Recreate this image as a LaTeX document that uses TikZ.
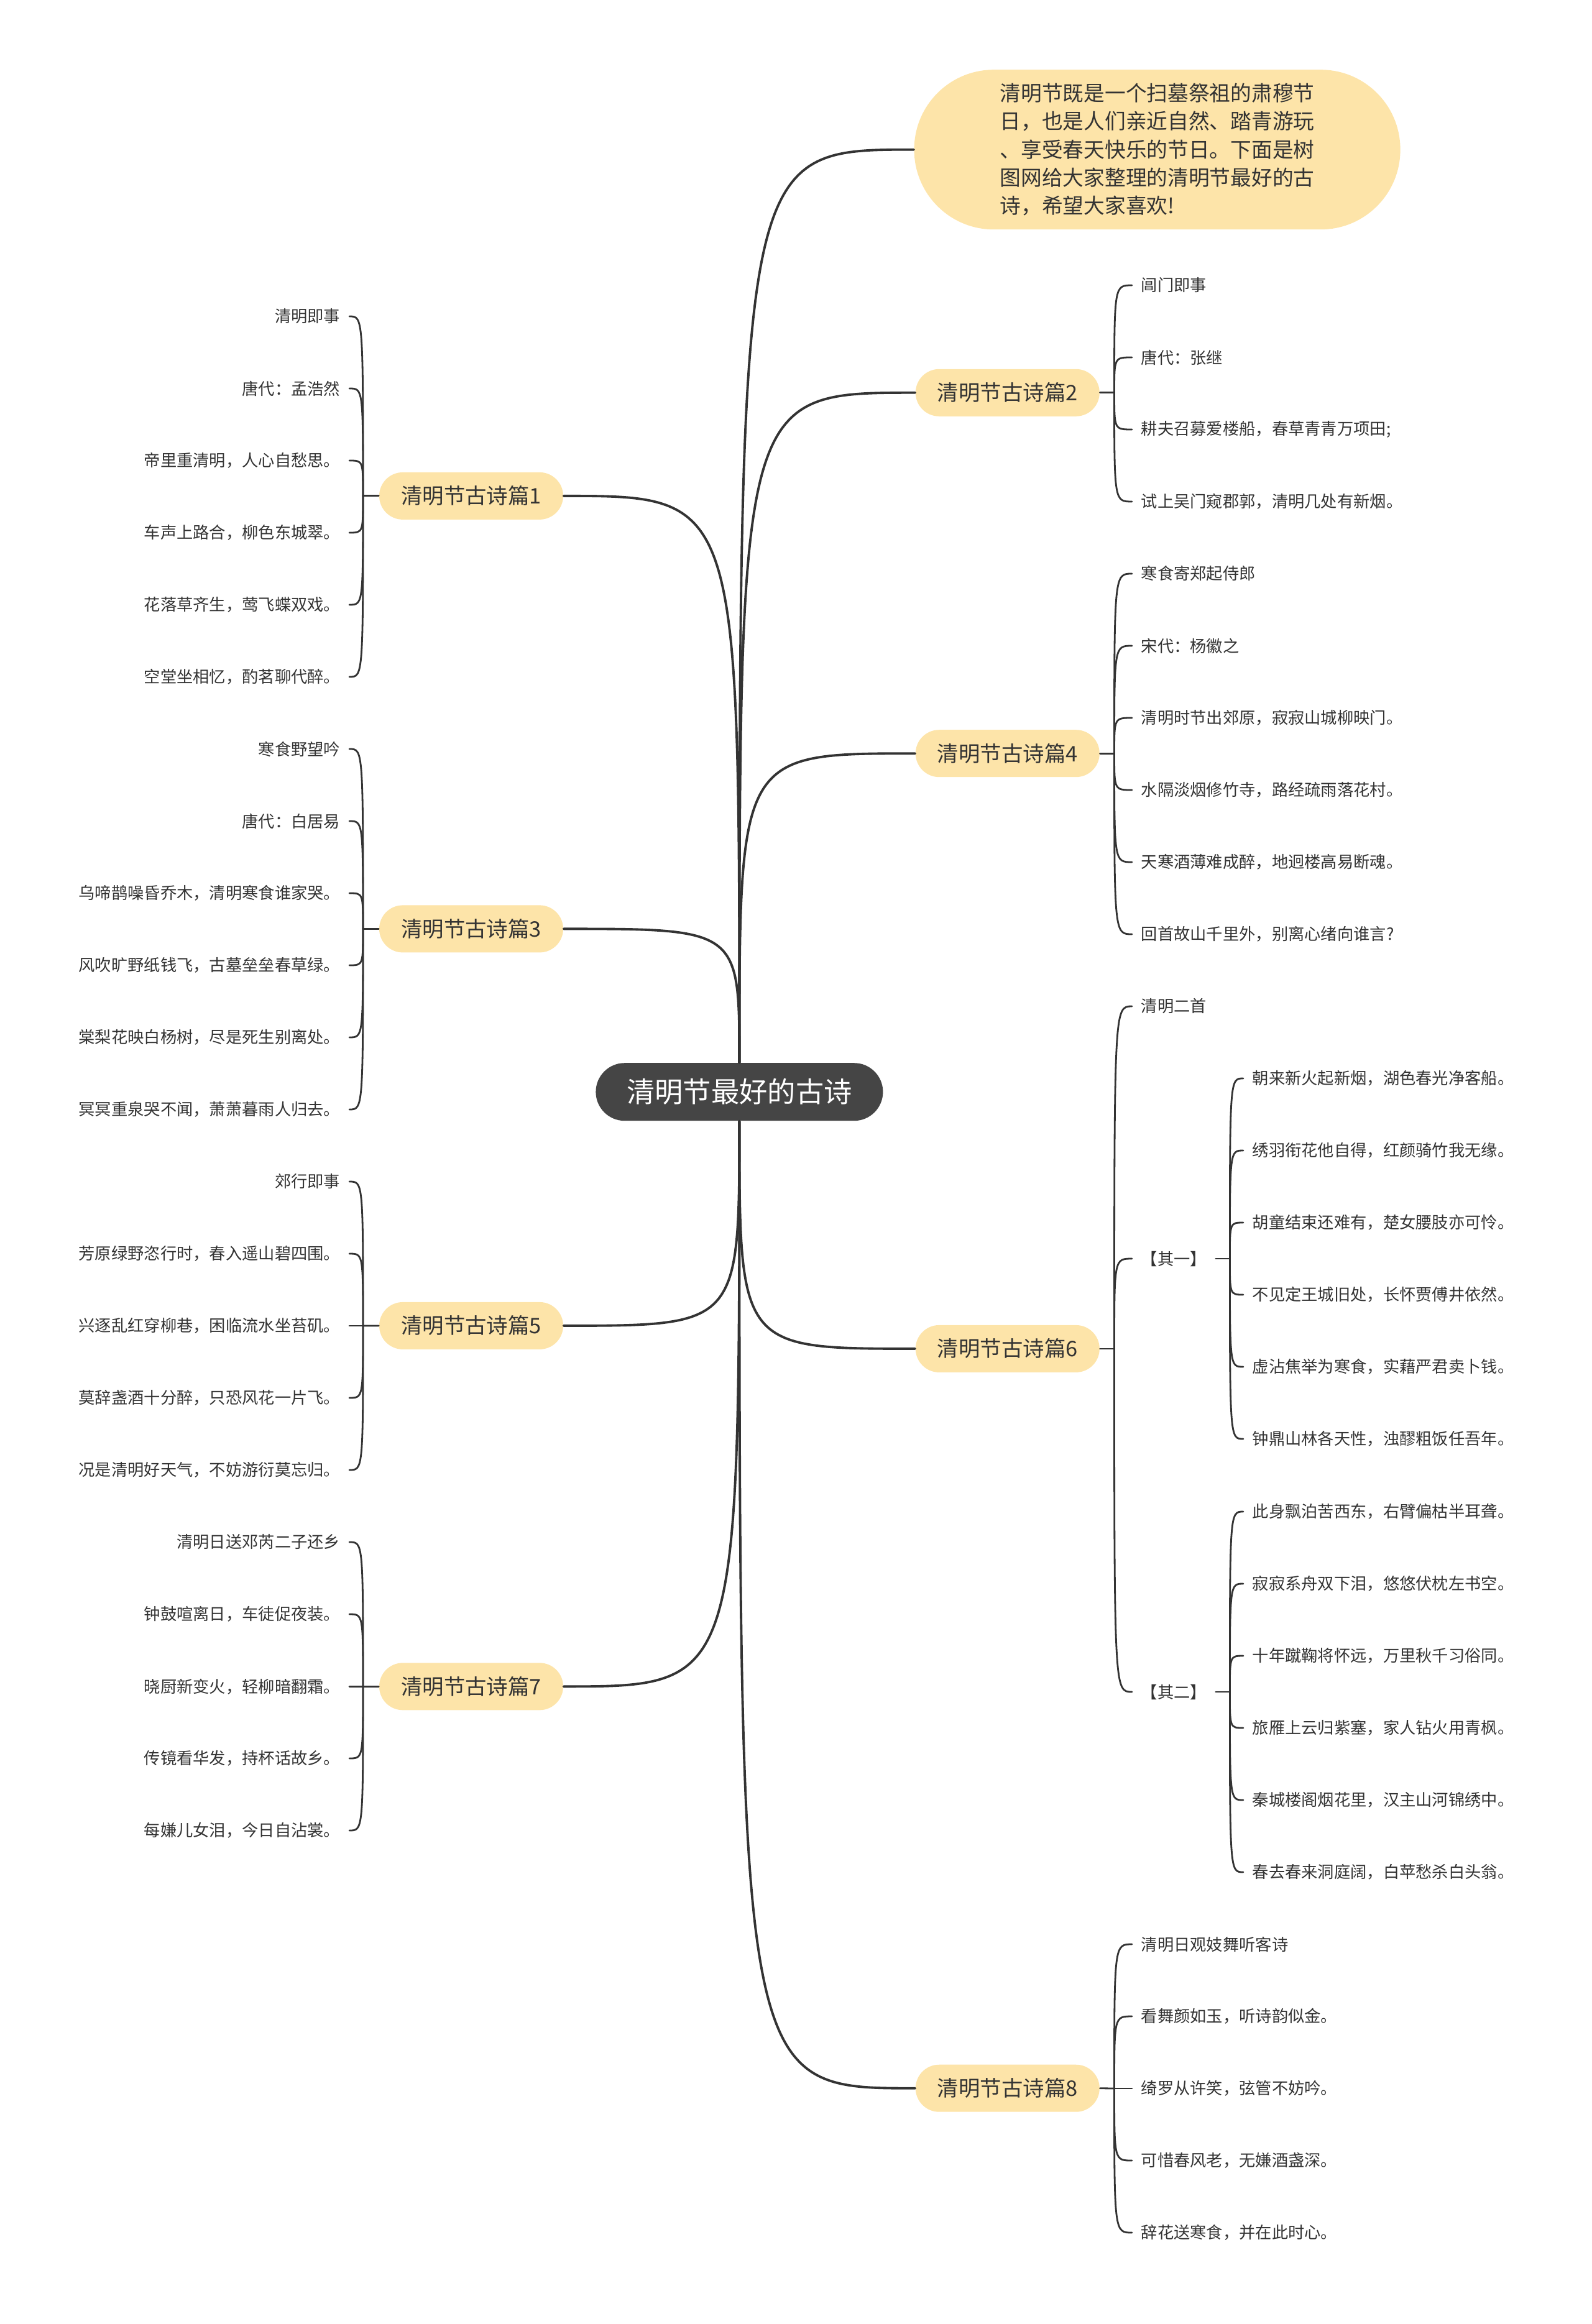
\documentclass[tikz,border=0pt]{standalone}
\usepackage{fontspec}
\setmainfont{Noto Sans CJK SC}
\definecolor{rootgray}{HTML}{454545}
\definecolor{topicyellow}{HTML}{FDE4A9}
\definecolor{linegray}{HTML}{333333}
\tikzstyle{rootnode}=[rectangle,rounded corners=0.465cm,fill=rootgray,text=white,minimum width=4.62cm,minimum height=0.93cm,font=\fontsize{12.9pt}{15pt}\selectfont]
\tikzstyle{topicnode}=[rectangle,rounded corners=0.38cm,fill=topicyellow,text=linegray,minimum width=2.96cm,minimum height=0.76cm,font=\fontsize{9.8pt}{12pt}\selectfont]
\tikzstyle{introbox}=[topicnode,rounded corners=1.28cm,minimum width=7.82cm,minimum height=2.57cm,align=left,font=\fontsize{9.6pt}{12.85pt}\selectfont]
\tikzstyle{leaf}=[inner xsep=4pt,inner ysep=1pt,text=linegray,font=\fontsize{7.48pt}{9pt}\selectfont]
\tikzstyle{lleaf}=[leaf,anchor=east]
\tikzstyle{rleaf}=[leaf,anchor=west]
\tikzstyle{twig}=[draw=linegray,line width=0.8pt,line cap=round,to path={.. controls (\tikztostart |- \tikztotarget) .. (\tikztotarget)}]
\tikzstyle{mainlink}=[twig,line width=1.1pt]

\begin{document}
\begin{tikzpicture}
\useasboundingbox (0,0) rectangle (25.6,-37.39);
\node[rootnode] (qm) at (11.894,-17.567) {清明节最好的古诗};
\node[introbox] (intro) at (18.616,-2.407) {清明节既是一个扫墓祭祖的肃穆节\\日，也是人们亲近自然、踏青游玩\\、享受春天快乐的节日。下面是树\\图网给大家整理的清明节最好的古\\诗，希望大家喜欢!};
\node[topicnode] (p1) at (7.58,-7.979) {清明节古诗篇1};
\node[topicnode] (p3) at (7.58,-14.944) {清明节古诗篇3};
\node[topicnode] (p5) at (7.58,-21.329) {清明节古诗篇5};
\node[topicnode] (p7) at (7.58,-27.133) {清明节古诗篇7};
\node[topicnode] (p2) at (16.208,-6.318) {清明节古诗篇2};
\node[topicnode] (p4) at (16.208,-12.122) {清明节古诗篇4};
\node[topicnode] (p6) at (16.208,-21.699) {清明节古诗篇6};
\node[topicnode] (p8) at (16.208,-33.597) {清明节古诗篇8};
\draw[mainlink](qm.north) to (intro.west);\draw[mainlink](qm.north) to (p2.west);\draw[mainlink](qm.north) to (p4.west);
\draw[mainlink](qm.north) to (p1.east);\draw[mainlink](qm.north) to (p3.east);
\draw[mainlink](qm.south) to (p5.east);\draw[mainlink](qm.south) to (p7.east);
\draw[mainlink](qm.south) to (p6.west);\draw[mainlink](qm.south) to (p8.west);
% left side
\coordinate (j1) at (5.84,-7.979);
\node[lleaf] (p1a) at (5.62,-5.09) {清明即事};
\node[lleaf] (p1b) at (5.62,-6.25) {唐代：孟浩然};
\node[lleaf] (p1c) at (5.62,-7.41) {帝里重清明，人心自愁思。};
\node[lleaf] (p1d) at (5.62,-8.57) {车声上路合，柳色东城翠。};
\node[lleaf] (p1e) at (5.62,-9.73) {花落草齐生，莺飞蝶双戏。};
\node[lleaf] (p1f) at (5.62,-10.89) {空堂坐相忆，酌茗聊代醉。};
\draw[twig](p1.west)--(j1);
\draw[twig](j1) to (p1a.east);\draw[twig](j1) to (p1b.east);\draw[twig](j1) to (p1c.east);
\draw[twig](j1) to (p1d.east);\draw[twig](j1) to (p1e.east);\draw[twig](j1) to (p1f.east);
\coordinate (j3) at (5.84,-14.944);
\node[lleaf] (p3a) at (5.62,-12.05) {寒食野望吟};
\node[lleaf] (p3b) at (5.62,-13.21) {唐代：白居易};
\node[lleaf] (p3c) at (5.62,-14.37) {乌啼鹊噪昏乔木，清明寒食谁家哭。};
\node[lleaf] (p3d) at (5.62,-15.53) {风吹旷野纸钱飞，古墓垒垒春草绿。};
\node[lleaf] (p3e) at (5.62,-16.69) {棠梨花映白杨树，尽是死生别离处。};
\node[lleaf] (p3f) at (5.62,-17.85) {冥冥重泉哭不闻，萧萧暮雨人归去。};
\draw[twig](p3.west)--(j3);
\draw[twig](j3) to (p3a.east);\draw[twig](j3) to (p3b.east);\draw[twig](j3) to (p3c.east);
\draw[twig](j3) to (p3d.east);\draw[twig](j3) to (p3e.east);\draw[twig](j3) to (p3f.east);
\coordinate (j5) at (5.84,-21.33);
\node[lleaf] (p5a) at (5.62,-19.01) {郊行即事};
\node[lleaf] (p5b) at (5.62,-20.17) {芳原绿野恣行时，春入遥山碧四围。};
\node[lleaf] (p5c) at (5.62,-21.33) {兴逐乱红穿柳巷，困临流水坐苔矶。};
\node[lleaf] (p5d) at (5.62,-22.49) {莫辞盏酒十分醉，只恐风花一片飞。};
\node[lleaf] (p5e) at (5.62,-23.65) {况是清明好天气，不妨游衍莫忘归。};
\draw[twig](p5.west)--(j5);
\draw[twig](j5) to (p5a.east);\draw[twig](j5) to (p5b.east);\draw[twig](j5)--(p5c.east);
\draw[twig](j5) to (p5d.east);\draw[twig](j5) to (p5e.east);
\coordinate (j7) at (5.84,-27.133);
\node[lleaf] (p7a) at (5.62,-24.81) {清明日送邓芮二子还乡};
\node[lleaf] (p7b) at (5.62,-25.97) {钟鼓喧离日，车徒促夜装。};
\node[lleaf] (p7c) at (5.62,-27.133) {晓厨新变火，轻柳暗翻霜。};
\node[lleaf] (p7d) at (5.62,-28.29) {传镜看华发，持杯话故乡。};
\node[lleaf] (p7e) at (5.62,-29.45) {每嫌儿女泪，今日自沾裳。};
\draw[twig](p7.west)--(j7);
\draw[twig](j7) to (p7a.east);\draw[twig](j7) to (p7b.east);\draw[twig](j7)--(p7c.east);
\draw[twig](j7) to (p7d.east);\draw[twig](j7) to (p7e.east);
% right side
\coordinate (j2) at (17.925,-6.318);
\node[rleaf] (p2a) at (18.21,-4.59) {阊门即事};
\node[rleaf] (p2b) at (18.21,-5.75) {唐代：张继};
\node[rleaf] (p2c) at (18.21,-6.91) {耕夫召募爱楼船，春草青青万项田;};
\node[rleaf] (p2d) at (18.21,-8.07) {试上吴门窥郡郭，清明几处有新烟。};
\draw[twig](p2.east)--(j2);
\draw[twig](j2) to (p2a.west);\draw[twig](j2) to (p2b.west);\draw[twig](j2) to (p2c.west);\draw[twig](j2) to (p2d.west);
\coordinate (j4) at (17.925,-12.122);
\node[rleaf] (p4a) at (18.21,-9.23) {寒食寄郑起侍郎};
\node[rleaf] (p4b) at (18.21,-10.39) {宋代：杨徽之};
\node[rleaf] (p4c) at (18.21,-11.55) {清明时节出郊原，寂寂山城柳映门。};
\node[rleaf] (p4d) at (18.21,-12.71) {水隔淡烟修竹寺，路经疏雨落花村。};
\node[rleaf] (p4e) at (18.21,-13.87) {天寒酒薄难成醉，地迥楼高易断魂。};
\node[rleaf] (p4f) at (18.21,-15.03) {回首故山千里外，别离心绪向谁言?};
\draw[twig](p4.east)--(j4);
\draw[twig](j4) to (p4a.west);\draw[twig](j4) to (p4b.west);\draw[twig](j4) to (p4c.west);
\draw[twig](j4) to (p4d.west);\draw[twig](j4) to (p4e.west);\draw[twig](j4) to (p4f.west);
\coordinate (j6) at (17.925,-21.699);
\node[rleaf] (p6a) at (18.21,-16.19) {清明二首};
\node[rleaf] (qy) at (18.21,-20.25) {【其一】};
\node[rleaf] (qe) at (18.21,-27.22) {【其二】};
\draw[twig](p6.east)--(j6);
\draw[twig](j6) to (p6a.west);\draw[twig](j6) to (qy.west);\draw[twig](j6) to (qe.west);
\coordinate (jy) at (19.784,-20.25);
\node[rleaf] (qy1) at (20.0,-17.35) {朝来新火起新烟，湖色春光净客船。};
\node[rleaf] (qy2) at (20.0,-18.51) {绣羽衔花他自得，红颜骑竹我无缘。};
\node[rleaf] (qy3) at (20.0,-19.67) {胡童结束还难有，楚女腰肢亦可怜。};
\node[rleaf] (qy4) at (20.0,-20.83) {不见定王城旧处，长怀贾傅井依然。};
\node[rleaf] (qy5) at (20.0,-21.99) {虚沾焦举为寒食，实藉严君卖卜钱。};
\node[rleaf] (qy6) at (20.0,-23.15) {钟鼎山林各天性，浊醪粗饭任吾年。};
\draw[twig](qy.east)--(jy);
\draw[twig](jy) to (qy1.west);\draw[twig](jy) to (qy2.west);\draw[twig](jy) to (qy3.west);
\draw[twig](jy) to (qy4.west);\draw[twig](jy) to (qy5.west);\draw[twig](jy) to (qy6.west);
\coordinate (je) at (19.784,-27.22);
\node[rleaf] (qe1) at (20.0,-24.32) {此身飘泊苦西东，右臂偏枯半耳聋。};
\node[rleaf] (qe2) at (20.0,-25.48) {寂寂系舟双下泪，悠悠伏枕左书空。};
\node[rleaf] (qe3) at (20.0,-26.64) {十年蹴鞠将怀远，万里秋千习俗同。};
\node[rleaf] (qe4) at (20.0,-27.80) {旅雁上云归紫塞，家人钻火用青枫。};
\node[rleaf] (qe5) at (20.0,-28.96) {秦城楼阁烟花里，汉主山河锦绣中。};
\node[rleaf] (qe6) at (20.0,-30.12) {春去春来洞庭阔，白苹愁杀白头翁。};
\draw[twig](qe.east)--(je);
\draw[twig](je) to (qe1.west);\draw[twig](je) to (qe2.west);\draw[twig](je) to (qe3.west);
\draw[twig](je) to (qe4.west);\draw[twig](je) to (qe5.west);\draw[twig](je) to (qe6.west);
\coordinate (j8) at (17.925,-33.6);
\node[rleaf] (p8a) at (18.21,-31.28) {清明日观妓舞听客诗};
\node[rleaf] (p8b) at (18.21,-32.44) {看舞颜如玉，听诗韵似金。};
\node[rleaf] (p8c) at (18.21,-33.6) {绮罗从许笑，弦管不妨吟。};
\node[rleaf] (p8d) at (18.21,-34.76) {可惜春风老，无嫌酒盏深。};
\node[rleaf] (p8e) at (18.21,-35.92) {辞花送寒食，并在此时心。};
\draw[twig](p8.east)--(j8);
\draw[twig](j8) to (p8a.west);\draw[twig](j8) to (p8b.west);\draw[twig](j8)--(p8c.west);
\draw[twig](j8) to (p8d.west);\draw[twig](j8) to (p8e.west);
\end{tikzpicture}
\end{document}
